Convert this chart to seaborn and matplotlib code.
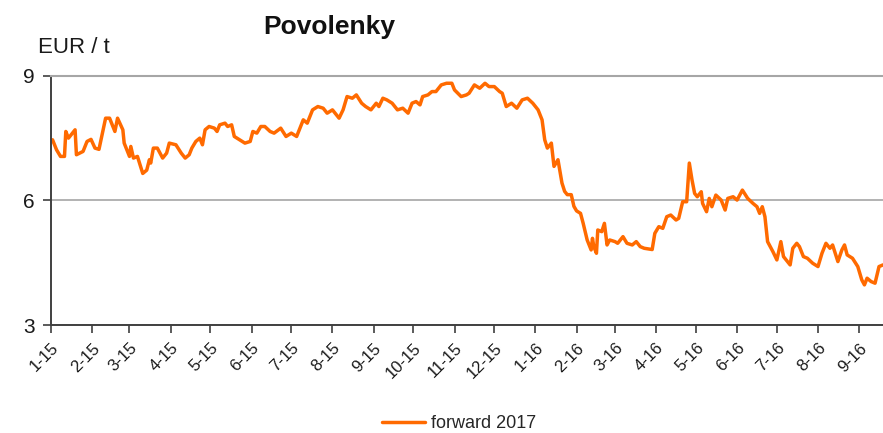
import matplotlib
matplotlib.use("Agg")
import matplotlib.pyplot as plt
import pandas as pd
import seaborn as sns

# values (EUR / t, forward 2017)
dates = [
    "2015-01-02", "2015-01-05", "2015-01-08", "2015-01-11", "2015-01-12", "2015-01-14",
    "2015-01-16", "2015-01-19", "2015-01-20", "2015-01-25", "2015-01-28", "2015-01-31",
    "2015-02-03", "2015-02-06", "2015-02-11", "2015-02-14", "2015-02-18", "2015-02-20",
    "2015-02-24", "2015-02-25", "2015-03-01", "2015-03-02", "2015-03-04", "2015-03-07",
    "2015-03-11", "2015-03-14", "2015-03-16", "2015-03-17", "2015-03-19", "2015-03-22",
    "2015-03-26", "2015-03-29", "2015-03-31", "2015-04-05", "2015-04-09", "2015-04-12",
    "2015-04-15", "2015-04-17", "2015-04-20", "2015-04-23", "2015-04-25", "2015-04-27",
    "2015-04-30", "2015-05-04", "2015-05-06", "2015-05-08", "2015-05-12", "2015-05-14",
    "2015-05-17", "2015-05-19", "2015-05-23", "2015-05-27", "2015-05-31", "2015-06-02",
    "2015-06-05", "2015-06-08", "2015-06-11", "2015-06-15", "2015-06-18", "2015-06-23",
    "2015-06-27", "2015-07-01", "2015-07-05", "2015-07-07", "2015-07-10", "2015-07-13",
    "2015-07-17", "2015-07-21", "2015-07-25", "2015-07-28", "2015-08-01", "2015-08-06",
    "2015-08-09", "2015-08-12", "2015-08-16", "2015-08-19", "2015-08-23", "2015-08-26",
    "2015-08-30", "2015-09-03", "2015-09-05", "2015-09-08", "2015-09-11", "2015-09-15",
    "2015-09-19", "2015-09-23", "2015-09-27", "2015-09-30", "2015-10-03", "2015-10-06",
    "2015-10-08", "2015-10-12", "2015-10-15", "2015-10-18", "2015-10-22", "2015-10-26",
    "2015-10-30", "2015-11-01", "2015-11-06", "2015-11-10", "2015-11-12", "2015-11-16",
    "2015-11-20", "2015-11-24", "2015-11-27", "2015-12-01", "2015-12-05", "2015-12-07",
    "2015-12-10", "2015-12-14", "2015-12-18", "2015-12-22", "2015-12-26", "2015-12-30",
    "2016-01-03", "2016-01-06", "2016-01-08", "2016-01-10", "2016-01-13", "2016-01-15",
    "2016-01-18", "2016-01-21", "2016-01-23", "2016-01-25", "2016-01-28", "2016-01-30",
    "2016-02-01", "2016-02-04", "2016-02-06", "2016-02-09", "2016-02-12", "2016-02-13",
    "2016-02-14", "2016-02-16", "2016-02-17", "2016-02-20", "2016-02-22", "2016-02-24",
    "2016-02-26", "2016-03-01", "2016-03-03", "2016-03-07", "2016-03-10", "2016-03-14",
    "2016-03-17", "2016-03-20", "2016-03-23", "2016-03-29", "2016-03-31", "2016-04-03",
    "2016-04-06", "2016-04-09", "2016-04-12", "2016-04-16", "2016-04-18", "2016-04-21",
    "2016-04-24", "2016-04-26", "2016-04-28", "2016-04-30", "2016-05-02", "2016-05-05",
    "2016-05-06", "2016-05-09", "2016-05-11", "2016-05-13", "2016-05-16", "2016-05-20",
    "2016-05-23", "2016-05-25", "2016-05-29", "2016-06-01", "2016-06-05", "2016-06-09",
    "2016-06-13", "2016-06-16", "2016-06-18", "2016-06-20", "2016-06-22", "2016-06-24",
    "2016-06-28", "2016-07-01", "2016-07-04", "2016-07-06", "2016-07-11", "2016-07-13",
    "2016-07-16", "2016-07-18", "2016-07-21", "2016-07-24", "2016-07-28", "2016-08-01",
    "2016-08-04", "2016-08-07", "2016-08-10", "2016-08-12", "2016-08-16", "2016-08-19",
    "2016-08-21", "2016-08-23", "2016-08-27", "2016-08-31", "2016-09-03", "2016-09-05",
    "2016-09-07", "2016-09-10", "2016-09-13", "2016-09-16", "2016-09-19",
]
prices = [
    7.46, 7.22, 7.06, 7.06, 7.66, 7.50,
    7.58, 7.70, 7.10, 7.18, 7.42, 7.47,
    7.26, 7.23, 7.98, 7.98, 7.66, 7.98,
    7.70, 7.38, 7.06, 7.30, 7.02, 7.06,
    6.65, 6.73, 6.98, 6.90, 7.26, 7.26,
    7.02, 7.14, 7.38, 7.34, 7.14, 7.02,
    7.10, 7.26, 7.42, 7.50, 7.34, 7.70,
    7.78, 7.74, 7.66, 7.82, 7.86, 7.78,
    7.82, 7.54, 7.46, 7.38, 7.42, 7.66,
    7.62, 7.78, 7.78, 7.66, 7.62, 7.74,
    7.54, 7.62, 7.54, 7.70, 7.94, 7.86,
    8.18, 8.26, 8.22, 8.10, 8.18, 7.98,
    8.18, 8.50, 8.46, 8.54, 8.34, 8.26,
    8.18, 8.34, 8.26, 8.46, 8.42, 8.34,
    8.18, 8.22, 8.10, 8.34, 8.38, 8.30,
    8.50, 8.54, 8.62, 8.62, 8.78, 8.82,
    8.82, 8.66, 8.50, 8.54, 8.58, 8.78,
    8.70, 8.82, 8.74, 8.74, 8.62, 8.58,
    8.26, 8.34, 8.22, 8.42, 8.46, 8.34,
    8.18, 7.94, 7.46, 7.26, 7.38, 6.82,
    6.98, 6.42, 6.22, 6.14, 6.14, 5.86,
    5.75, 5.69, 5.45, 5.05, 4.81, 5.09,
    4.89, 4.73, 5.29, 5.25, 5.45, 4.93,
    5.05, 5.01, 4.97, 5.13, 4.97, 4.93,
    5.01, 4.89, 4.85, 4.82, 5.21, 5.37,
    5.33, 5.61, 5.65, 5.53, 5.57, 5.97,
    5.97, 6.90, 6.50, 6.17, 6.09, 6.21,
    5.93, 5.73, 6.05, 5.85, 6.13, 6.01,
    5.77, 6.05, 6.09, 6.01, 6.25, 6.05,
    5.93, 5.85, 5.69, 5.85, 5.61, 5.01,
    4.77, 4.57, 5.01, 4.65, 4.45, 4.85,
    4.97, 4.89, 4.65, 4.61, 4.49, 4.41,
    4.73, 4.97, 4.85, 4.93, 4.53, 4.81,
    4.93, 4.69, 4.61, 4.41, 4.09, 3.97,
    4.13, 4.05, 4.01, 4.41, 4.45,
]
month_labels = ["1-15", "2-15", "3-15", "4-15", "5-15", "6-15", "7-15", "8-15",
                "9-15", "10-15", "11-15", "12-15", "1-16", "2-16", "3-16", "4-16",
                "5-16", "6-16", "7-16", "8-16", "9-16"]
y_ticks = [3, 6, 9]
series_name = "forward 2017"

df = pd.DataFrame({"date": pd.to_datetime(dates), "price": prices})

sns.set_style("white")
plt.rcParams["font.family"] = ["Liberation Sans", "DejaVu Sans"]

fig = plt.figure(figsize=(8.83, 4.33), dpi=100)
ax = fig.add_axes([0.058, 0.249, 0.942, 0.576])

sns.lineplot(data=df, x="date", y="price", color="#ff6a00", linewidth=2.5,
             label=series_name, ax=ax)

ax.set_xlim(pd.Timestamp("2015-01-01"), pd.Timestamp("2016-09-19"))
ax.set_ylim(3, 9)
ax.set_yticks(y_ticks)
ax.set_yticklabels([str(v) for v in y_ticks], fontsize=15, color="#1a1a1a")
ax.set_xticks(pd.date_range("2015-01-01", periods=len(month_labels), freq="MS"))
ax.set_xticklabels(month_labels, rotation=45, ha="right", rotation_mode="anchor",
                   fontsize=12, color="#1a1a1a")
ax.set_xlabel("")
ax.set_ylabel("")

ax.yaxis.grid(True, color="#a6a6a6", linewidth=1.2)
ax.set_axisbelow(True)
ax.spines["right"].set_visible(False)
ax.spines["top"].set_color("#a6a6a6")
ax.spines["top"].set_linewidth(1.5)
ax.spines["left"].set_color("#404040")
ax.spines["left"].set_linewidth(1.4)
ax.spines["bottom"].set_color("#404040")
ax.spines["bottom"].set_linewidth(1.4)
ax.tick_params(axis="y", direction="out", length=6, width=1.2, color="#404040",
               left=True, pad=6)
ax.tick_params(axis="x", direction="out", length=6, width=1.2, color="#404040",
               bottom=True, pad=5)

ax.legend_.remove()
fig.legend(loc="lower center", bbox_to_anchor=(0.52, -0.035), frameon=False,
           fontsize=13, handlelength=2.4, handletextpad=0.35)

fig.text(0.373, 0.938, "Povolenky", fontsize=19, fontweight="bold",
         ha="center", va="center", color="#111111")
fig.text(0.043, 0.89, "EUR / t", fontsize=16, ha="left", va="center", color="#1a1a1a")

plt.savefig("out.png", dpi=100)
